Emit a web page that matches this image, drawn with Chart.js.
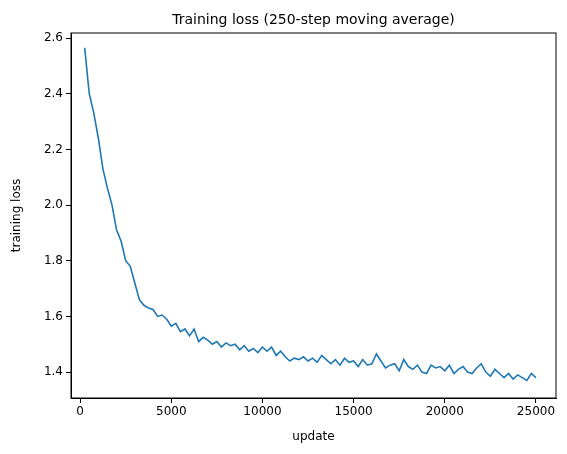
<html>
  <head>
    <script src="https://cdn.jsdelivr.net/npm/chart.js"></script>
    <style>
      body { margin: 0; background: #fff; }
      #wrap { width: 567px; height: 454px; }
    </style>
  </head>
  <body>
    <div id="wrap"><canvas id="graph-loss"></canvas></div>
    <script>
      // steps (every 250 updates) and the moving-average loss
      const steps = [];
      for (let s = 250; s <= 25000; s += 250) steps.push(s);
      const loss = [
        2.565, 2.40, 2.33, 2.24, 2.13, 2.06, 2.00, 1.91, 1.87, 1.80,
        1.78, 1.72, 1.66, 1.64, 1.63, 1.625, 1.60, 1.605, 1.59, 1.565,
        1.575, 1.545, 1.555, 1.53, 1.555, 1.51, 1.525, 1.515, 1.50, 1.51,
        1.49, 1.505, 1.495, 1.50, 1.48, 1.495, 1.475, 1.485, 1.47, 1.49,
        1.475, 1.49, 1.46, 1.475, 1.455, 1.44, 1.45, 1.445, 1.455, 1.44,
        1.45, 1.435, 1.46, 1.445, 1.43, 1.445, 1.425, 1.45, 1.435, 1.44,
        1.42, 1.445, 1.425, 1.43, 1.465, 1.44, 1.415, 1.425, 1.43, 1.405,
        1.445, 1.42, 1.41, 1.425, 1.40, 1.395, 1.425, 1.415, 1.42, 1.405,
        1.425, 1.395, 1.41, 1.42, 1.40, 1.395, 1.415, 1.43, 1.40, 1.385,
        1.41, 1.395, 1.38, 1.395, 1.375, 1.39, 1.38, 1.37, 1.395, 1.38
      ];
      const xTicks = [0, 5000, 10000, 15000, 20000, 25000];
      const yTicks = [1.4, 1.6, 1.8, 2.0, 2.2, 2.4, 2.6];

      const font = "'DejaVu Sans', sans-serif";

      const titlePlugin = {
        id: "mplTitle",
        afterDraw(chart) {
          const c = chart.ctx, a = chart.chartArea;
          c.save();
          c.font = "14px " + font;
          c.fillStyle = "#000";
          c.textAlign = "center";
          c.textBaseline = "bottom";
          c.fillText("Training loss (250-step moving average)", (a.left + a.right) / 2, a.top - 6);
          c.restore();
        }
      };

      new Chart(document.getElementById("graph-loss"), {
        type: "line",
        data: {
          datasets: [{
            data: steps.map((s, i) => ({ x: s, y: loss[i] })),
            borderColor: "#1f77b4",
            borderWidth: 1.6,
            pointRadius: 0,
            tension: 0,
            fill: false
          }]
        },
        options: {
          responsive: true,
          maintainAspectRatio: false,
          animation: false,
          layout: { padding: { top: 33, right: 11, left: 10, bottom: 10 } },
          plugins: { legend: { display: false }, tooltip: { enabled: false } },
          scales: {
            x: {
              type: "linear",
              min: -500, max: 26100,
              afterBuildTicks: s => { s.ticks = xTicks.map(v => ({ value: v })); },
              afterFit: s => { s.height = 46; },
              grid: { drawOnChartArea: false, tickLength: 5, color: "#000" },
              border: { color: "#000", width: 1 },
              ticks: { color: "#000", font: { family: font, size: 12 }, padding: 2, maxRotation: 0, callback: v => String(v) },
              title: { display: true, text: "update", color: "#000", font: { family: font, size: 12 }, padding: 0 }
            },
            y: {
              min: 1.307, max: 2.618,
              afterBuildTicks: s => { s.ticks = yTicks.map(v => ({ value: v })); },
              afterFit: s => { s.width = 61; },
              grid: { drawOnChartArea: false, tickLength: 5, color: "#000" },
              border: { color: "#000", width: 1 },
              ticks: { color: "#000", font: { family: font, size: 12 }, padding: 3, callback: v => v.toFixed(1) },
              title: { display: true, text: "training loss", color: "#000", font: { family: font, size: 12 }, padding: 0 }
            }
          }
        },
        plugins: [titlePlugin, {
          id: "frame",
          afterDraw(chart) {
            const c = chart.ctx, a = chart.chartArea;
            c.save();
            c.strokeStyle = "#000";
            c.lineWidth = 1;
            c.strokeRect(a.left, a.top, a.right - a.left, a.bottom - a.top);
            c.restore();
          }
        }]
      });
    </script>
  </body>
</html>
